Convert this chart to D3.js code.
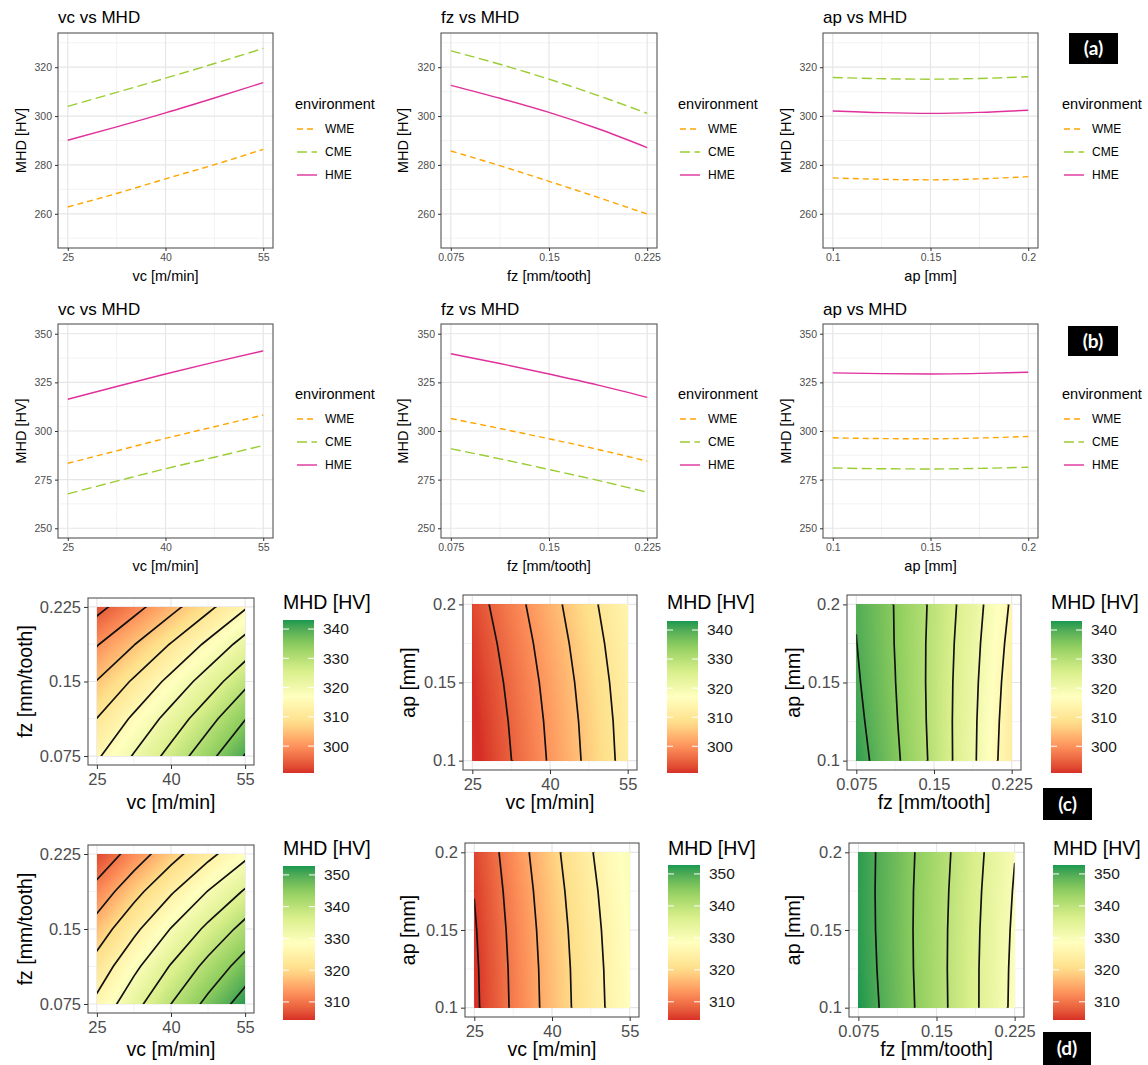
<!DOCTYPE html>
<html>
<head>
<meta charset="utf-8">
<script src="https://cdn.jsdelivr.net/npm/d3@7"></script>
<style>
  body { margin: 0; background: #fff; }
  svg { display: block; }
</style>
</head>
<body>
<svg id="chart" width="1148" height="1065"></svg>
<script>
// factor levels used in the response plots
var vcLevels = [25, 32.5, 40, 47.5, 55];
var fzLevels = [0.075, 0.1125, 0.15, 0.1875, 0.225];
var apLevels = [0.1, 0.125, 0.15, 0.175, 0.2];
var environments = ['WME', 'CME', 'HME'];

var vcTicks = [25, 40, 55];
var fzTicks = [0.075, 0.15, 0.225];
var apTicks = [0.1, 0.15, 0.2];

var yLimA = [250, 330], yTicksA = [260, 280, 300, 320];
var yLimB = [250, 350], yTicksB = [250, 275, 300, 325, 350];

// (a) main effects
var aVcWME = [262.8, 268.3, 274.3, 280.1, 286.4];
var aVcCME = [304.0, 309.7, 315.5, 321.5, 327.7];
var aVcHME = [290.1, 295.6, 301.3, 307.4, 313.7];
var aFzWME = [285.7, 279.7, 273.3, 266.7, 259.9];
var aFzCME = [326.7, 321.2, 315.1, 308.4, 301.1];
var aFzHME = [312.6, 307.3, 301.5, 294.8, 287.1];
var aApWME = [274.7, 274.1, 273.9, 274.3, 275.2];
var aApCME = [315.8, 315.3, 315.1, 315.4, 316.1];
var aApHME = [302.1, 301.4, 301.1, 301.5, 302.4];

// (b) main effects
var bVcWME = [283.4, 289.8, 296.2, 302.2, 308.2];
var bVcCME = [267.7, 274.2, 280.6, 286.5, 292.6];
var bVcHME = [316.3, 322.9, 329.3, 335.4, 341.2];
var bFzWME = [306.4, 301.3, 296.0, 290.5, 284.5];
var bFzCME = [290.9, 285.7, 280.2, 274.6, 268.5];
var bFzHME = [339.7, 334.7, 329.3, 323.6, 317.3];
var bApWME = [296.5, 296.1, 296.0, 296.4, 297.2];
var bApCME = [281.0, 280.6, 280.5, 280.8, 281.4];
var bApHME = [329.9, 329.5, 329.3, 329.6, 330.2];

// (c) surfaces, rows = y level (low to high), columns = x level
var cVcFz = [
  [314.3, 320.39, 326.75, 333.39, 340.3],
  [310.08, 315.85, 321.9, 328.23, 334.83],
  [305.2, 310.66, 316.4, 322.41, 328.7],
  [299.68, 304.83, 310.25, 315.95, 321.93],
  [293.5, 298.34, 303.45, 308.84, 314.5]
];
var cVcAp = [
  [289.48, 294.95, 300.5, 306.13, 311.83],
  [289.99, 295.41, 300.9, 306.47, 312.11],
  [290.7, 296.06, 301.5, 307.01, 312.6],
  [291.61, 296.92, 302.3, 307.76, 313.29],
  [292.73, 297.98, 303.3, 308.7, 314.18]
];
var cFzAp = [
  [342.1, 335.95, 328.85, 320.8, 311.8],
  [341.28, 335.44, 328.65, 320.91, 312.23],
  [340.6, 335.08, 328.6, 321.18, 312.8],
  [340.08, 334.86, 328.7, 321.59, 313.53],
  [339.7, 334.8, 328.95, 322.15, 314.4]
];

// (d) surfaces
var dVcFz = [
  [326.2, 333.29, 340.01, 346.35, 352.32],
  [321.98, 328.86, 335.37, 341.51, 347.27],
  [317.2, 323.88, 330.18, 336.11, 341.66],
  [311.88, 318.35, 324.44, 330.16, 335.51],
  [306.0, 312.26, 318.15, 323.66, 328.8]
];
var dVcAp = [
  [304.1, 310.7, 317.0, 323.0, 328.5],
  [304.26, 310.86, 317.16, 323.16, 328.7],
  [304.6, 311.2, 317.5, 323.5, 329.0],
  [305.11, 311.71, 318.01, 324.01, 329.4],
  [305.8, 312.4, 318.7, 324.7, 329.8]
];
var dFzAp = [
  [352.8, 347.54, 341.8, 335.57, 328.85],
  [352.44, 347.3, 341.69, 335.58, 328.99],
  [352.2, 347.19, 341.7, 335.72, 329.25],
  [352.09, 347.2, 341.84, 335.98, 329.64],
  [352.1, 347.34, 342.1, 336.37, 330.15]
];

var limitsC = [290.8, 343.1], barTicksC = [300, 310, 320, 330, 340];
var levelsC = [295, 300, 305, 310, 315, 320, 325, 330, 335, 340];
var limitsD = [304.3, 352.8], barTicksD = [310, 320, 330, 340, 350];
var levelsD = [305, 310, 315, 320, 325, 330, 335, 340, 345, 350];

var rdYlGn = ['#d73027', '#fc8d59', '#fee08b', '#ffffbf', '#d9ef8b', '#91cf60', '#1a9850'];
var envColors = ['#ffa500', '#9acd32', '#e0309b'];
var envDash = ['6,4', '10,4.5', null];

var FONT = '"Liberation Sans", Arial, sans-serif';
var svg = d3.select('#chart');
var clipCount = 0;

function expand(lim, e) {
  var span = lim[1] - lim[0];
  return [lim[0] - e * span, lim[1] + e * span];
}

function minorBreaks(ticks, domain) {
  var step = ticks[1] - ticks[0];
  var out = d3.pairs(ticks).map(function(p) { return (p[0] + p[1]) / 2; });
  out.push(ticks[0] - step / 2, ticks[ticks.length - 1] + step / 2);
  return out.filter(function(v) { return v > domain[0] && v < domain[1]; });
}

function styleAxis(sel, size) {
  sel.attr('font-family', FONT).attr('font-size', size);
  sel.select('.domain').remove();
  sel.selectAll('.tick line').attr('stroke', '#333').attr('stroke-width', 1);
  sel.selectAll('.tick text').attr('fill', '#4d4d4d');
}

function drawGrid(g, xs, ys, xTicks, yTicks, box) {
  var xd = xs.domain(), yd = ys.domain();
  minorBreaks(xTicks, xd).forEach(function(v) {
    g.append('line').attr('x1', xs(v)).attr('x2', xs(v)).attr('y1', box.top).attr('y2', box.bottom)
      .attr('stroke', '#f0f0f0').attr('stroke-width', 0.8);
  });
  minorBreaks(yTicks, yd).forEach(function(v) {
    g.append('line').attr('y1', ys(v)).attr('y2', ys(v)).attr('x1', box.left).attr('x2', box.right)
      .attr('stroke', '#f0f0f0').attr('stroke-width', 0.8);
  });
  xTicks.forEach(function(v) {
    g.append('line').attr('x1', xs(v)).attr('x2', xs(v)).attr('y1', box.top).attr('y2', box.bottom)
      .attr('stroke', '#e6e6e6').attr('stroke-width', 1.2);
  });
  yTicks.forEach(function(v) {
    g.append('line').attr('y1', ys(v)).attr('y2', ys(v)).attr('x1', box.left).attr('x2', box.right)
      .attr('stroke', '#e6e6e6').attr('stroke-width', 1.2);
  });
}

function linePanel(p) {
  var g = svg.append('g');
  var box = p.box;
  var xs = d3.scaleLinear().domain(expand([p.xLevels[0], p.xLevels[p.xLevels.length - 1]], 0.05)).range([box.left, box.right]);
  var ys = d3.scaleLinear().domain(expand(p.yLim, 0.05)).range([box.bottom, box.top]);

  drawGrid(g, xs, ys, p.xTicks, p.yTicks, box);

  var line = d3.line()
    .x(function(d, i) { return xs(p.xLevels[i]); })
    .y(function(d) { return ys(d); })
    .curve(d3.curveMonotoneX);

  p.series.forEach(function(s, i) {
    g.append('path').datum(s).attr('d', line)
      .attr('fill', 'none').attr('stroke', envColors[i]).attr('stroke-width', 1.4)
      .attr('stroke-dasharray', envDash[i]);
  });

  g.append('rect').attr('x', box.left).attr('y', box.top)
    .attr('width', box.right - box.left).attr('height', box.bottom - box.top)
    .attr('fill', 'none').attr('stroke', '#555').attr('stroke-width', 1.1);

  g.append('g').attr('transform', 'translate(0,' + box.bottom + ')')
    .call(d3.axisBottom(xs).tickValues(p.xTicks).tickSize(3).tickPadding(3).tickFormat(function(d) { return String(d); }))
    .call(styleAxis, 10.5);
  g.append('g').attr('transform', 'translate(' + box.left + ',0)')
    .call(d3.axisLeft(ys).tickValues(p.yTicks).tickSize(3).tickPadding(3))
    .call(styleAxis, 10.5);

  g.append('text').attr('x', box.left).attr('y', p.titleY)
    .attr('font-family', FONT).attr('font-size', 17).attr('fill', '#000').text(p.title);
  g.append('text').attr('x', (box.left + box.right) / 2).attr('y', box.bottom + 33)
    .attr('text-anchor', 'middle').attr('font-family', FONT).attr('font-size', 14.5).text(p.xLabel);
  g.append('text').attr('transform', 'translate(' + p.yLabelX + ',' + (box.top + box.bottom) / 2 + ') rotate(-90)')
    .attr('text-anchor', 'middle').attr('dy', '0.35em').attr('font-family', FONT).attr('font-size', 14.5).text('MHD [HV]');

  // legend
  var lg = g.append('g').attr('transform', 'translate(' + p.legendX + ',' + p.legendY + ')');
  lg.append('text').attr('x', 0).attr('y', 0).attr('dy', '0.35em')
    .attr('font-family', FONT).attr('font-size', 14.5).text('environment');
  environments.forEach(function(name, i) {
    var yy = 25 + i * 23;
    lg.append('line').attr('x1', 2).attr('x2', 22).attr('y1', yy).attr('y2', yy)
      .attr('stroke', envColors[i]).attr('stroke-width', 1.4).attr('stroke-dasharray', envDash[i]);
    lg.append('text').attr('x', 30).attr('y', yy).attr('dy', '0.35em')
      .attr('font-family', FONT).attr('font-size', 12).text(name);
  });
}

function makeColor(lim) {
  var dom = d3.range(7).map(function(i) { return lim[0] + i * (lim[1] - lim[0]) / 6; });
  return d3.scaleLinear().domain(dom).range(rdYlGn).interpolate(d3.interpolateLab).clamp(true);
}

function contourPanel(p) {
  var g = svg.append('g');
  var box = p.box;
  var xv = p.xLevels, yv = p.yLevels;
  var xs = d3.scaleLinear().domain(expand([xv[0], xv[xv.length - 1]], 0.06)).range([box.left, box.right]);
  var ys = d3.scaleLinear().domain(expand([yv[0], yv[yv.length - 1]], 0.06)).range([box.bottom, box.top]);
  var color = makeColor(p.limits);

  drawGrid(g, xs, ys, p.xTicks, p.yTicks, box);

  var nx = xv.length, ny = yv.length;
  var values = [].concat.apply([], p.grid);
  var sx = xv[1] - xv[0], sy = yv[1] - yv[0];
  var path = d3.geoPath(d3.geoTransform({
    point: function(x, y) {
      this.stream.point(xs(xv[0] + (x - 0.5) * sx), ys(yv[0] + (y - 0.5) * sy));
    }
  }));

  var id = 'clip' + (clipCount++);
  g.append('clipPath').attr('id', id).append('rect')
    .attr('x', xs(xv[0])).attr('y', ys(yv[ny - 1]))
    .attr('width', xs(xv[nx - 1]) - xs(xv[0])).attr('height', ys(yv[0]) - ys(yv[ny - 1]));
  var inner = g.append('g').attr('clip-path', 'url(#' + id + ')');

  var lo = d3.min(values), hi = d3.max(values), step = 0.25;
  var fillLevels = d3.range(Math.floor(lo / step) * step - step, hi, step);
  var bands = d3.contours().size([nx, ny]).thresholds(fillLevels)(values);
  inner.selectAll('path.band').data(bands).enter().append('path')
    .attr('class', 'band')
    .attr('d', path)
    .attr('fill', function(d) { return color(d.value + step / 2); })
    .attr('stroke', function(d) { return color(d.value + step / 2); })
    .attr('stroke-width', 0.4);

  var iso = d3.contours().size([nx, ny]).thresholds(p.levels)(values);
  inner.selectAll('path.iso').data(iso).enter().append('path')
    .attr('class', 'iso')
    .attr('d', path)
    .attr('fill', 'none').attr('stroke', '#111').attr('stroke-width', 1.7);

  g.append('rect').attr('x', box.left).attr('y', box.top)
    .attr('width', box.right - box.left).attr('height', box.bottom - box.top)
    .attr('fill', 'none').attr('stroke', '#555').attr('stroke-width', 1.1);

  g.append('g').attr('transform', 'translate(0,' + box.bottom + ')')
    .call(d3.axisBottom(xs).tickValues(p.xTicks).tickSize(4).tickPadding(4).tickFormat(function(d) { return String(d); }))
    .call(styleAxis, 16.5);
  g.append('g').attr('transform', 'translate(' + box.left + ',0)')
    .call(d3.axisLeft(ys).tickValues(p.yTicks).tickSize(4).tickPadding(3).tickFormat(function(d) { return String(d); }))
    .call(styleAxis, 16.5);

  g.append('text').attr('x', (box.left + box.right) / 2).attr('y', p.xLabelY)
    .attr('text-anchor', 'middle').attr('font-family', FONT).attr('font-size', 19.5).text(p.xLabel);
  g.append('text').attr('transform', 'translate(' + p.yLabelX + ',' + (box.top + box.bottom) / 2 + ') rotate(-90)')
    .attr('text-anchor', 'middle').attr('dy', '0.35em').attr('font-family', FONT).attr('font-size', 19.5).text(p.yLabel);

  // colour bar
  var bar = p.bar;
  var gid = 'grad' + clipCount;
  var grad = svg.append('defs').append('linearGradient').attr('id', gid)
    .attr('x1', 0).attr('y1', 1).attr('x2', 0).attr('y2', 0);
  d3.range(0, 1.0001, 0.05).forEach(function(f) {
    grad.append('stop').attr('offset', f)
      .attr('stop-color', color(p.limits[0] + f * (p.limits[1] - p.limits[0])));
  });
  var by = d3.scaleLinear().domain(p.limits).range([bar.bottom, bar.top]);
  g.append('rect').attr('x', bar.x).attr('y', bar.top).attr('width', bar.w).attr('height', bar.bottom - bar.top)
    .attr('fill', 'url(#' + gid + ')');
  p.barTicks.forEach(function(v) {
    g.append('line').attr('x1', bar.x).attr('x2', bar.x + 6).attr('y1', by(v)).attr('y2', by(v))
      .attr('stroke', '#fff').attr('stroke-width', 1);
    g.append('line').attr('x1', bar.x + bar.w - 6).attr('x2', bar.x + bar.w).attr('y1', by(v)).attr('y2', by(v))
      .attr('stroke', '#fff').attr('stroke-width', 1);
    g.append('text').attr('x', bar.x + bar.w + 9).attr('y', by(v)).attr('dy', '0.35em')
      .attr('font-family', FONT).attr('font-size', 15.5).attr('fill', '#1a1a1a').text(v);
  });
  g.append('text').attr('x', bar.x).attr('y', bar.titleY)
    .attr('font-family', FONT).attr('font-size', 19.5).text('MHD [HV]');
}

function tag(x, y, w, h, label) {
  svg.append('rect').attr('x', x).attr('y', y).attr('width', w).attr('height', h).attr('fill', '#000');
  svg.append('text').attr('x', x + w / 2).attr('y', y + h / 2).attr('dy', '0.35em')
    .attr('text-anchor', 'middle').attr('fill', '#fff')
    .attr('font-family', 'Lato, "DejaVu Sans", sans-serif').attr('font-weight', 700).attr('font-size', 19)
    .text(label);
}

// rows (a) and (b)
var colBoxes = [[58, 273], [441, 657], [823, 1038]];
var legendXs = [295, 678, 1062];
var yLabelXs = [21, 403, 786];
var xInfo = [
  { levels: vcLevels, ticks: vcTicks, title: 'vc vs MHD', label: 'vc [m/min]' },
  { levels: fzLevels, ticks: fzTicks, title: 'fz vs MHD', label: 'fz [mm/tooth]' },
  { levels: apLevels, ticks: apTicks, title: 'ap vs MHD', label: 'ap [mm]' }
];
var rowA = { top: 33, bottom: 248, yLim: yLimA, yTicks: yTicksA, titleY: 23, legendY: 104,
  series: [[aVcWME, aVcCME, aVcHME], [aFzWME, aFzCME, aFzHME], [aApWME, aApCME, aApHME]] };
var rowB = { top: 324, bottom: 538, yLim: yLimB, yTicks: yTicksB, titleY: 315, legendY: 394,
  series: [[bVcWME, bVcCME, bVcHME], [bFzWME, bFzCME, bFzHME], [bApWME, bApCME, bApHME]] };

[rowA, rowB].forEach(function(row) {
  xInfo.forEach(function(xi, c) {
    linePanel({
      box: { left: colBoxes[c][0], right: colBoxes[c][1], top: row.top, bottom: row.bottom },
      xLevels: xi.levels, xTicks: xi.ticks, yLim: row.yLim, yTicks: row.yTicks,
      title: xi.title, xLabel: xi.label, titleY: row.titleY,
      yLabelX: yLabelXs[c], legendX: legendXs[c], legendY: row.legendY,
      series: row.series[c]
    });
  });
});

// rows (c) and (d)
var surfaceCols = [
  { x: vcLevels, y: fzLevels, xt: vcTicks, yt: fzTicks, xl: 'vc [m/min]', yl: 'fz [mm/tooth]', ylx: 25 },
  { x: vcLevels, y: apLevels, xt: vcTicks, yt: apTicks, xl: 'vc [m/min]', yl: 'ap [mm]', ylx: 408 },
  { x: fzLevels, y: apLevels, xt: fzTicks, yt: apTicks, xl: 'fz [mm/tooth]', yl: 'ap [mm]', ylx: 793 }
];
var rowC = {
  grids: [cVcFz, cVcAp, cFzAp], limits: limitsC, levels: levelsC, barTicks: barTicksC, xLabelY: 809,
  boxes: [[88, 254, 598, 765], [463, 637, 595, 770], [847, 1021, 595, 770]],
  bars: [[283, 31, 620, 773], [667, 31, 621, 773], [1051, 31, 621, 773]], barTitleY: 609
};
var rowD = {
  grids: [dVcFz, dVcAp, dFzAp], limits: limitsD, levels: levelsD, barTicks: barTicksD, xLabelY: 1056,
  boxes: [[88, 254, 845, 1013], [465, 639, 843, 1017], [849, 1024, 843, 1017]],
  bars: [[283, 32, 866, 1020], [668, 32, 865, 1020], [1053, 32, 865, 1020]], barTitleY: 855
};

[rowC, rowD].forEach(function(row) {
  surfaceCols.forEach(function(sc, c) {
    var b = row.boxes[c], br = row.bars[c];
    contourPanel({
      box: { left: b[0], right: b[1], top: b[2], bottom: b[3] },
      xLevels: sc.x, yLevels: sc.y, xTicks: sc.xt, yTicks: sc.yt,
      grid: row.grids[c], limits: row.limits, levels: row.levels, barTicks: row.barTicks,
      xLabel: sc.xl, yLabel: sc.yl, yLabelX: sc.ylx, xLabelY: row.xLabelY,
      bar: { x: br[0], w: br[1], top: br[2], bottom: br[3], titleY: row.barTitleY }
    });
  });
});

tag(1069, 33, 49, 31, '(a)');
tag(1068, 326, 50, 30, '(b)');
tag(1043, 788, 49, 32, '(c)');
tag(1043, 1032, 48, 33, '(d)');
</script>
</body>
</html>
